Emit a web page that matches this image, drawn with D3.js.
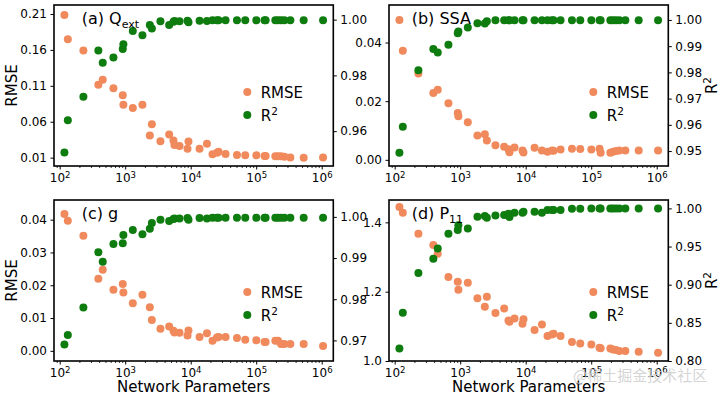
<!DOCTYPE html>
<html>
<head>
<meta charset="utf-8">
<script src="https://cdn.jsdelivr.net/npm/d3@7"></script>
<style>
  body { margin: 0; background: #fff; }
  svg { display: block; font-family: "DejaVu Sans", sans-serif; }
</style>
</head>
<body>
<svg id="chart" width="720" height="398"></svg>
<script>
// Network sizes (shared by all four panels)
const params = [118, 133, 230, 389, 454, 661, 918, 938, 1306, 1833, 2377, 2553, 3451, 4689,
  5458, 5652, 6745, 8935, 9248, 13650, 17700, 21530, 25180, 26610, 34040, 50830, 68080,
  100500, 134300, 139300, 195900, 215100, 239100, 269000, 332000, 530500, 1049000];

// (a) Q_ext
const rmseQext = [0.2086, 0.1749, 0.1591, 0.1116, 0.1185, 0.1065, 0.0968, 0.0835, 0.0793, 0.0835,
  0.0409, 0.0566, 0.0330, 0.0423, 0.0340, 0.0275, 0.0261, 0.0225, 0.0326, 0.0225, 0.0294, 0.0146,
  0.0169, 0.0183, 0.0150, 0.0136, 0.0132, 0.0132, 0.0122, 0.0122, 0.0118, 0.0118, 0.0118, 0.0114,
  0.0104, 0.0100, 0.0104];
const r2Qext = [0.9523, 0.9639, 0.9723, 0.9889, 0.9845, 0.9864, 0.9895, 0.9912, 0.9959, 0.9944,
  0.9981, 0.9968, 0.9994, 0.9981, 0.9992, 0.9995, 0.9994, 0.9996, 0.9991, 0.9996, 0.9995, 0.9998,
  0.9998, 0.9998, 0.9998, 0.9998, 0.9998, 0.9998, 0.9998, 0.9998, 0.9998, 0.9998, 0.9998, 0.9998,
  0.9998, 0.9998, 0.9998];

// (b) SSA
const rmseSSA = [0.0477, 0.0372, 0.0294, 0.0228, 0.0239, 0.0193, 0.0160, 0.0149, 0.0128, 0.0083,
  0.0087, 0.0066, 0.0050, 0.0045, 0.0036, 0.0026, 0.0042, 0.0032, 0.0025, 0.0041, 0.0032, 0.0028,
  0.0032, 0.0031, 0.0035, 0.0038, 0.0037, 0.0035, 0.0038, 0.0024, 0.0024, 0.0028, 0.0030, 0.0032,
  0.0032, 0.0032, 0.0032];
const r2SSA = [0.9494, 0.9593, 0.9808, 0.9889, 0.9876, 0.9905, 0.9949, 0.9956, 0.9971, 0.9987,
  0.9986, 0.9995, 0.9999, 0.9999, 0.9999, 0.9999, 0.9999, 0.9999, 0.9999, 0.9999, 0.9999, 0.9999,
  0.9999, 0.9999, 0.9999, 0.9999, 0.9999, 0.9999, 0.9999, 0.9999, 0.9999, 0.9999, 0.9999, 0.9999,
  0.9999, 0.9999, 0.9999];

// (c) g
const rmseG = [0.0417, 0.0397, 0.0351, 0.0220, 0.0247, 0.0186, 0.0204, 0.0178, 0.0145, 0.0171,
  0.0133, 0.0094, 0.0067, 0.0074, 0.0061, 0.0056, 0.0055, 0.0047, 0.0062, 0.0042, 0.0054, 0.0031,
  0.0041, 0.0042, 0.0042, 0.0039, 0.0034, 0.0032, 0.0027, 0.0027, 0.0031, 0.0031, 0.0021, 0.0021,
  0.0021, 0.0021, 0.0015];
const r2G = [0.9690, 0.9713, 0.9780, 0.9914, 0.9891, 0.9934, 0.9936, 0.9956, 0.9968, 0.9958,
  0.9971, 0.9985, 0.9993, 0.9990, 0.9995, 0.9996, 0.9996, 0.9997, 0.9993, 0.9997, 0.9996, 0.9998,
  0.9998, 0.9998, 0.9998, 0.9998, 0.9998, 0.9998, 0.9998, 0.9998, 0.9998, 0.9998, 0.9998, 0.9998,
  0.9998, 0.9998, 0.9998];

// (d) P11
const rmseP11 = [1.4444, 1.4280, 1.3674, 1.3348, 1.3097, 1.2424, 1.2289, 1.2058, 1.2260, 1.1807,
  1.1567, 1.1856, 1.1385, 1.1518, 1.1172, 1.1134, 1.1229, 1.1076, 1.1201, 1.0895, 1.1056, 1.0722,
  1.0768, 1.0787, 1.0722, 1.0548, 1.0508, 1.0479, 1.0384, 1.0365, 1.0364, 1.0335, 1.0317, 1.0289,
  1.0289, 1.0268, 1.0240];
const r2P11 = [0.8165, 0.8633, 0.9153, 0.9341, 0.9476, 0.9668, 0.9717, 0.9778, 0.9738, 0.9891,
  0.9900, 0.9878, 0.9908, 0.9913, 0.9931, 0.9887, 0.9944, 0.9944, 0.9957, 0.9957, 0.9944, 0.9979,
  0.9979, 0.9979, 0.9979, 0.9996, 0.9996, 0.9998, 0.9998, 0.9998, 0.9998, 0.9998, 0.9998, 0.9998,
  0.9998, 0.9998, 0.9998];

// Tick values
const xTicks = [1e2, 1e3, 1e4, 1e5, 1e6];
const ticksRmseQext = [0.01, 0.06, 0.11, 0.16, 0.21];
const ticksR2Qext = [0.96, 0.98, 1.00];
const ticksRmseSSA = [0.00, 0.02, 0.04];
const ticksR2SSA = [0.95, 0.96, 0.97, 0.98, 0.99, 1.00];
const ticksRmseG = [0.00, 0.01, 0.02, 0.03, 0.04];
const ticksR2G = [0.97, 0.98, 0.99, 1.00];
const ticksRmseP11 = [1.0, 1.2, 1.4];
const ticksR2P11 = [0.80, 0.85, 0.90, 0.95, 1.00];

const titleMain = ["(a) Q", "(b) SSA", "(c) g", "(d) P"];
const titleSub = ["ext", "", "", "11"];

const orange = "#f08a5d";
const green = "#0e7c0e";

const svg = d3.select("#chart");
const W = 279.3, H = 161;
const colX = [54, 389], rowY = [5, 200];

const panels = [
  { rmse: rmseQext, r2: r2Qext, yL: [-0.0016, 0.2225], yR: [0.9475, 1.00525],
    tL: ticksRmseQext, tR: ticksR2Qext, fL: ".2f", fR: ".2f", col: 0, row: 0 },
  { rmse: rmseSSA, r2: r2SSA, yL: [-0.0021, 0.0528], yR: [0.9443, 1.0057],
    tL: ticksRmseSSA, tR: ticksR2SSA, fL: ".2f", fR: ".2f", col: 1, row: 0 },
  { rmse: rmseG, r2: r2G, yL: [-0.0031, 0.0460], yR: [0.965, 1.0041],
    tL: ticksRmseG, tR: ticksR2G, fL: ".2f", fR: ".2f", col: 0, row: 1 },
  { rmse: rmseP11, r2: r2P11, yL: [1.0, 1.4645], yR: [0.80, 1.011],
    tL: ticksRmseP11, tR: ticksR2P11, fL: ".1f", fR: ".2f", col: 1, row: 1 }
];

// log-axis minor ticks
const minorTicks = [];
for (let k = 1; k <= 6; k++) for (let m = 2; m <= 9; m++) minorTicks.push(m * Math.pow(10, k));

function styleAxis(g) {
  g.select(".domain").remove();
  g.selectAll(".tick line").attr("stroke", "#000").attr("stroke-width", 1);
  g.selectAll(".tick text").attr("font-size", "12px").attr("fill", "#000")
    .attr("font-family", "DejaVu Sans, sans-serif");
}

panels.forEach((p, i) => {
  const x0 = colX[p.col], y0 = rowY[p.row];
  const g = svg.append("g").attr("transform", `translate(${x0},${y0})`);

  const x = d3.scaleLog().domain([Math.pow(10, 1.913), Math.pow(10, 6.177)]).range([0, W]);
  const yL = d3.scaleLinear().domain(p.yL).range([H, 0]);
  const yR = d3.scaleLinear().domain(p.yR).range([H, 0]);

  // x axis: minor then major
  const gxm = g.append("g").attr("transform", `translate(0,${H})`)
    .call(d3.axisBottom(x).tickValues(minorTicks.filter(v => v > x.domain()[0] && v < x.domain()[1]))
      .tickSize(2).tickFormat(""));
  styleAxis(gxm);
  gxm.selectAll(".tick line").attr("stroke-width", 0.8);

  const gx = g.append("g").attr("transform", `translate(0,${H})`)
    .call(d3.axisBottom(x).tickValues(xTicks).tickSize(3.5).tickPadding(3.5).tickFormat(""));
  styleAxis(gx);
  gx.selectAll(".tick text").each(function(d) {
    const t = d3.select(this).text("10");
    t.append("tspan").attr("dy", "-4").attr("font-size", "8.5px")
      .text(Math.round(Math.log10(d)));
  });

  const gl = g.append("g")
    .call(d3.axisLeft(yL).tickValues(p.tL).tickFormat(d3.format(p.fL)).tickSize(3.5).tickPadding(3.5));
  styleAxis(gl);

  const gr = g.append("g").attr("transform", `translate(${W},0)`)
    .call(d3.axisRight(yR).tickValues(p.tR).tickFormat(d3.format(p.fR)).tickSize(3.5).tickPadding(3.5));
  styleAxis(gr);

  // points: RMSE first, R2 on top (twin axis)
  g.append("g").selectAll("circle")
    .data(params.map((v, j) => [v, p.rmse[j]]))
    .enter().append("circle")
    .attr("cx", d => x(d[0])).attr("cy", d => yL(d[1])).attr("r", 4)
    .attr("fill", orange);

  g.append("g").selectAll("circle")
    .data(params.map((v, j) => [v, p.r2[j]]))
    .enter().append("circle")
    .attr("cx", d => x(d[0])).attr("cy", d => yR(d[1])).attr("r", 4)
    .attr("fill", green);

  // frame
  g.append("rect").attr("width", W).attr("height", H)
    .attr("fill", "none").attr("stroke", "#000").attr("stroke-width", 1.6);

  // panel title
  const tt = g.append("text")
    .attr("x", p.col === 0 ? 27.7 : 22.7).attr("y", 19)
    .attr("font-size", "16px").text(titleMain[i]);
  if (titleSub[i]) tt.append("tspan").attr("dy", "3.5").attr("font-size", "11px").text(titleSub[i]);

  // legend
  const lx = p.col === 0 ? 193.3 : 204.3;
  const ly = p.row === 0 ? [87, 110] : [92, 115];
  g.append("circle").attr("cx", lx).attr("cy", ly[0]).attr("r", 4).attr("fill", orange);
  g.append("circle").attr("cx", lx).attr("cy", ly[1]).attr("r", 4).attr("fill", green);
  g.append("text").attr("x", lx + 13.4).attr("y", ly[0] + 5.5).attr("font-size", "15px").text("RMSE");
  const lr = g.append("text").attr("x", lx + 13.4).attr("y", ly[1] + 5.5).attr("font-size", "15px").text("R");
  lr.append("tspan").attr("dy", "-6").attr("font-size", "10.5px").text("2");

  // axis labels
  if (p.col === 0) {
    g.append("text").attr("transform", `translate(${11.5 - x0},${H / 2}) rotate(-90)`)
      .attr("text-anchor", "middle").attr("dy", "0.35em").attr("font-size", "15px").text("RMSE");
  } else {
    const rl = g.append("text").attr("transform", `translate(${712 - x0},${H / 2}) rotate(-90)`)
      .attr("text-anchor", "middle").attr("dy", "0.35em").attr("font-size", "15px").text("R");
    rl.append("tspan").attr("dy", "-6").attr("font-size", "10.5px").text("2");
  }
  if (p.row === 1) {
    g.append("text").attr("x", W / 2).attr("y", 392 - y0)
      .attr("text-anchor", "middle").attr("font-size", "15px").text("Network Parameters");
  }
});

// watermark
svg.append("text").attr("x", 573).attr("y", 381)
  .attr("font-family", "Noto Sans CJK SC, sans-serif").attr("font-size", "15px")
  .attr("fill", "#d0d0d0").attr("fill-opacity", 0.9).text("@稀土掘金技术社区");
</script>
</body>
</html>
